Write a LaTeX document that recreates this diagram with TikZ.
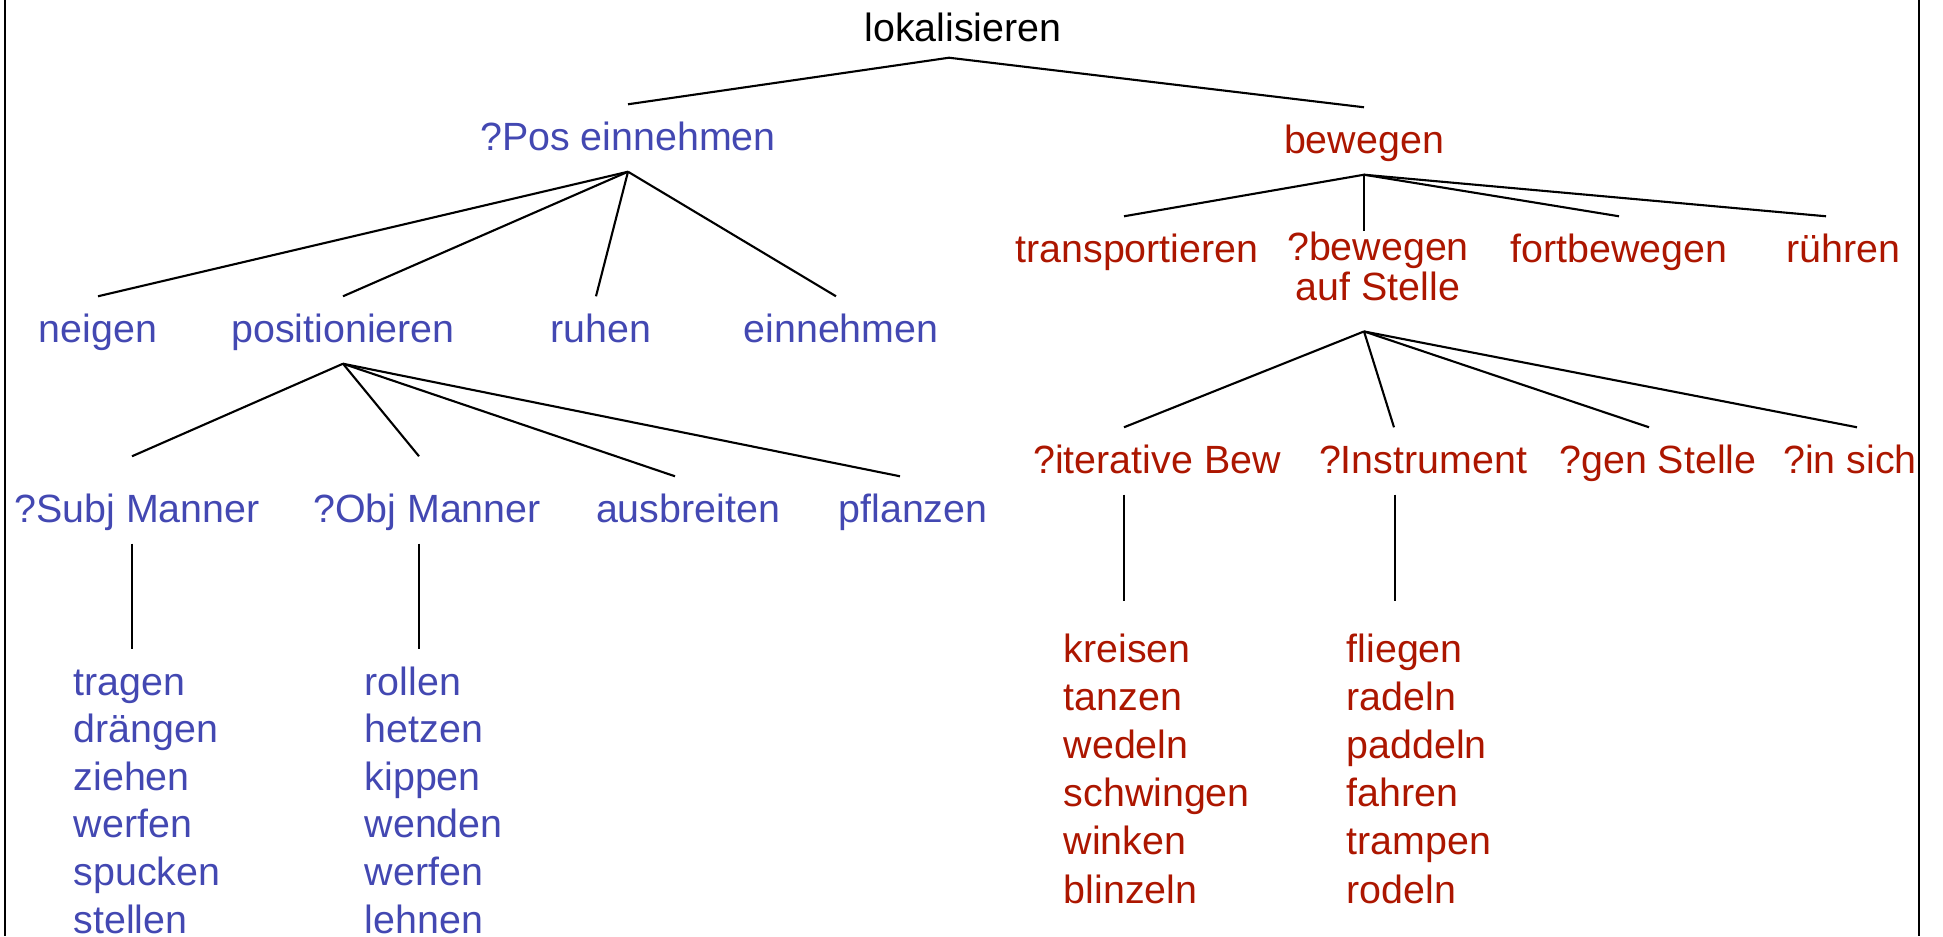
\documentclass[tikz,border=0pt]{standalone}
\usepackage{fontspec}
\setmainfont{Liberation Sans}
\usepackage{xcolor}
\usepackage{tikz}
\definecolor{posblue}{RGB}{67,72,178}
\definecolor{movred}{RGB}{172,22,0}
\newcommand{\wordfont}{\fontsize{11.2}{11.4}\selectfont}

\begin{document}
\begin{tikzpicture}[x=0.01cm,y=-0.01cm,
  word/.style={anchor=base,inner xsep=0pt,inner ysep=1.5mm,text height=3mm,text depth=0.6mm,font=\wordfont},
  posw/.style={word,text=posblue},
  movw/.style={word,text=movred},
  branch/.style={line width=0.6pt},
  stem/.style={line width=0.4pt}]
\useasboundingbox (0,0) rectangle (1943,936);
\draw[line width=0.7pt] (5,0) -- (5,936);
\draw[line width=0.7pt] (1919,0) -- (1919,936);

\node[word] (lok) at (963,41) {lokalisieren};
\node[posw] (qpos) at (628,150) {?Pos einnehmen};
\node[movw] (bew) at (1364,153) {bewegen};
\draw[branch] ([xshift=-1.4mm,yshift=0.5mm]lok.south) -- (qpos.north);
\draw[branch] ([xshift=-1.4mm,yshift=0.5mm]lok.south) -- (bew.north);

\node[posw] (neigen) at (98,342) {neigen};
\node[posw] (posit) at (343,342) {positionieren};
\node[posw] (ruhen) at (601,342) {ruhen};
\node[posw] (einn) at (841,342) {einnehmen};
\draw[branch] (qpos.south) -- (neigen.north);
\draw[branch] (qpos.south) -- (posit.north);
\draw[branch] (qpos.south) -- ([xshift=-0.5mm]ruhen.north);
\draw[branch] (qpos.south) -- ([xshift=-0.5mm]einn.north);

\node[posw] (subj) at (137,522) {?Subj Manner};
\node[posw] (obj) at (427,522) {?Obj Manner};
\node[posw] (ausbr) at (688,522) {ausbreiten};
\node[posw] (pflanz) at (913,522) {pflanzen};
\draw[branch] (posit.south) -- ([xshift=-0.5mm,yshift=2mm]subj.north);
\draw[branch] (posit.south) -- ([xshift=-0.8mm,yshift=2mm]obj.north);
\draw[branch] (posit.south) -- ([xshift=-1.3mm]ausbr.north);
\draw[branch] (posit.south) -- ([xshift=-1.3mm]pflanz.north);

\foreach \w [count=\i] in {tragen,drängen,ziehen,werfen,spucken,stellen}
  \node[posw,anchor=base west] (subj\i) at (73,{695+47.6*(\i-1)}) {\w};
\foreach \w [count=\i] in {rollen,hetzen,kippen,wenden,werfen,lehnen}
  \node[posw,anchor=base west] (obj\i) at (364,{695+47.6*(\i-1)}) {\w};
\draw[stem] ([xshift=-0.5mm]subj.south) -- ([xshift=-0.5mm]subj.south |- subj1.north);
\draw[stem] ([xshift=-0.8mm]obj.south) -- ([xshift=-0.8mm]obj.south |- obj1.north);

\node[movw] (transp) at (1137,262) {transportieren};
\node[movw,align=center,anchor=north,inner ysep=0pt,text height=,text depth=] (qbew) at (1378,231) {?bewegen\\auf Stelle};
\node[movw] (fortb) at (1619,262) {fortbewegen};
\node[movw] (ruehren) at (1843,262) {rühren};
\draw[branch] (bew.south) -- ([xshift=-1.3mm]transp.north);
\draw[branch] (bew.south) -- (bew.south |- qbew.north);
\draw[branch] (bew.south) -- (fortb.north);
\draw[branch] (bew.south) -- ([xshift=-1.7mm]ruehren.north);

\coordinate[yshift=-3mm] (qbewfoot) at (qbew.south -| bew.south);
\node[movw] (qit) at (1157,473) {?iterative Bew};
\node[movw] (instr) at (1423,473) {?Instrument};
\node[movw] (gen) at (1658,473) {?gen Stelle};
\node[movw] (insich) at (1850,473) {?in sich};
\draw[branch] (qbewfoot) -- ([xshift=-3.3mm]qit.north);
\draw[branch] (qbewfoot) -- ([xshift=-2.9mm]instr.north);
\draw[branch] (qbewfoot) -- ([xshift=-0.9mm]gen.north);
\draw[branch] (qbewfoot) -- ([xshift=0.7mm]insich.north);

\foreach \w [count=\i] in {kreisen,tanzen,wedeln,schwingen,winken,blinzeln}
  \node[movw,anchor=base west] (it\i) at (1063,{662+48.2*(\i-1)}) {\w};
\foreach \w [count=\i] in {fliegen,radeln,paddeln,fahren,trampen,rodeln}
  \node[movw,anchor=base west] (ins\i) at (1346,{662+48.2*(\i-1)}) {\w};
\draw[stem,shorten >=1.5mm] ([xshift=-3.3mm]qit.south) -- ([xshift=-3.3mm]qit.south |- it1.north);
\draw[stem,shorten >=1.5mm] ([xshift=-2.8mm]instr.south) -- ([xshift=-2.8mm]instr.south |- ins1.north);
\end{tikzpicture}
\end{document}
